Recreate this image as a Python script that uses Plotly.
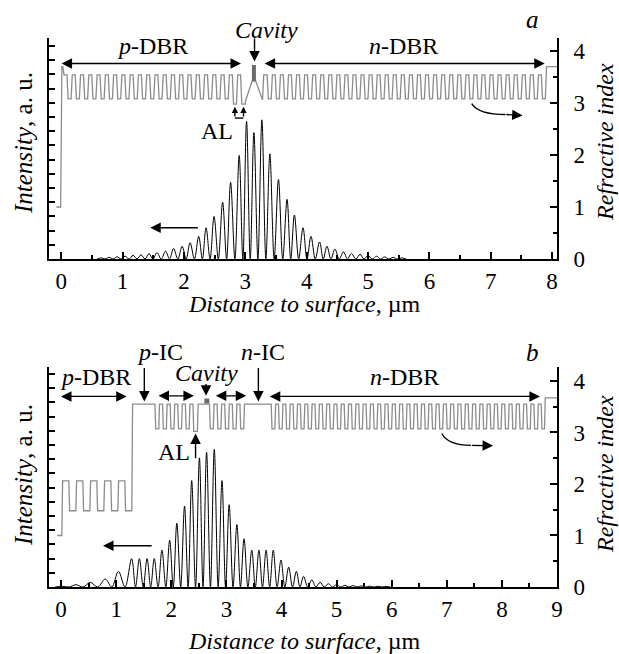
import plotly.graph_objects as go

FONT = "Liberation Serif"
GREY = "#8c8c8c"
DARK = "#6a6a6a"

# ---------------- panel a : layer structure (µm, refractive index) ----------------
a_air_span = [-0.08, 0.0]
a_cap_span = [0.0, 0.035]
a_pdbr_span = [0.035, 3.0]
a_pdbr_pairs = 22
a_al_pairs = 2
a_grin_x = [3.00, 3.11, 3.17, 3.28]
a_grin_n = [3.03, 3.42, 3.42, 3.06]
a_qw_x = [3.14, 3.14]
a_qw_n = [3.42, 3.73]
a_ndbr_span = [3.30, 7.90]
a_ndbr_pairs = 35
a_sub_span = [7.90, 8.2]
a_n_air, a_n_cap, a_n_hi, a_n_lo, a_n_al, a_n_sub = 1.0, 3.70, 3.54, 3.08, 2.98, 3.70

# ---------------- panel a : intensity lobes ----------------
a_peak_x = [0.65, 0.78, 0.91, 1.04, 1.17, 1.30, 1.43, 1.56, 1.70, 1.83,
            1.97, 2.10, 2.24, 2.36, 2.49, 2.63, 2.76, 2.90, 3.02, 3.14,
            3.27, 3.40, 3.54, 3.68, 3.80, 3.94, 4.07, 4.21, 4.33, 4.46,
            4.60, 4.73, 4.87, 5.00, 5.14, 5.27, 5.41, 5.55]
a_peak_h = [0.08, 0.12, 0.16, 0.2, 0.26, 0.3, 0.38, 0.45, 0.56, 0.75,
            0.9, 1.15, 1.6, 2.2, 3.0, 4.0, 5.4, 7.3, 9.7, 8.9,
            9.8, 7.4, 5.6, 4.2, 3.1, 2.2, 1.6, 1.2, 0.9, 0.7,
            0.5, 0.4, 0.33, 0.25, 0.2, 0.15, 0.12, 0.08]

# ---------------- panel b : layer structure ----------------
b_air_span = [-0.07, 0.02]
b_pdbr_span = [0.02, 1.29]
b_pdbr_pairs = 5
b_pic_span = [1.29, 1.71]
b_dbr1_span = [1.71, 2.40]
b_dbr1_pairs = 5
b_al_span = [2.40, 2.48]
b_cav_span = [2.48, 2.70]
b_dbr2_span = [2.70, 3.39]
b_dbr2_pairs = 5
b_nic_span = [3.39, 3.82]
b_ndbr_span = [3.82, 8.72]
b_ndbr_pairs = 37
b_end_lo_span = [8.72, 8.78]
b_sub_span = [8.78, 9.1]
b_qw_x = [2.60, 2.69]
b_qw_n = [3.61, 3.61]
b_n_air, b_n_dhi, b_n_dlo = 1.0, 2.06, 1.48
b_n_hi, b_n_lo, b_n_al, b_n_sub = 3.55, 3.07, 3.02, 3.67

# ---------------- panel b : intensity lobes ----------------
b_peak_x = [0.02, 0.27, 0.53, 0.80, 1.04, 1.28, 1.42, 1.56, 1.69, 1.83,
            1.97, 2.10, 2.24, 2.37, 2.51, 2.64, 2.78, 2.92, 3.05, 3.19,
            3.32, 3.46, 3.59, 3.72, 3.85, 3.99, 4.13, 4.27, 4.40, 4.55,
            4.70, 4.85, 5.00, 5.15, 5.30, 5.45, 5.60, 5.75, 5.90]
b_peak_h = [0.05, 0.16, 0.33, 0.56, 1.1, 2.0, 2.0, 2.0, 2.0, 2.6,
            3.3, 4.5, 5.7, 7.5, 9.1, 9.5, 9.7, 7.5, 5.8, 4.4,
            3.4, 2.6, 2.6, 2.6, 2.6, 1.9, 1.4, 1.1, 0.75, 0.5,
            0.33, 0.23, 0.16, 0.12, 0.1, 0.08, 0.06, 0.05, 0.04]


def dbr(span, pairs, first, second):
    s, e = span
    p = (e - s) / pairs
    out = []
    for k in range(pairs):
        x = s + k * p
        out.append([x, x + p / 2, first])
        out.append([x + p / 2, x + p, second])
    return out


def layer_points(layers, ramp):
    xs, ys = [], []
    n = len(layers)
    for i, (x0, x1, v) in enumerate(layers):
        a = x0 + (ramp / 2 if i > 0 else 0)
        b = x1 - (ramp / 2 if i < n - 1 else 0)
        xs += [a, b]
        ys += [v, v]
    return xs, ys


def lobes(px, ph):
    xs = [px[0] - (px[1] - px[0]) / 2]
    ys = [0]
    for i in range(len(px)):
        xs.append(px[i]); ys.append(ph[i])
        if i < len(px) - 1:
            xs.append((px[i] + px[i + 1]) / 2)
        else:
            xs.append(px[i] + (px[i] - px[i - 1]) / 2)
        ys.append(0)
    return xs, ys


# panel a profile
pd_a = dbr(a_pdbr_span, a_pdbr_pairs, a_n_hi, a_n_lo)
for j in range(a_al_pairs):
    pd_a[-1 - 2 * j][2] = a_n_al
seg1 = [[a_air_span[0], a_air_span[1], a_n_air], [a_cap_span[0], a_cap_span[1], a_n_cap]] + pd_a
x1, y1 = layer_points(seg1, 0.02)
seg2 = dbr(a_ndbr_span, a_ndbr_pairs, a_n_hi, a_n_lo) + [[a_sub_span[0], a_sub_span[1], a_n_sub]]
x2, y2 = layer_points(seg2, 0.02)
a_nx = x1 + a_grin_x + x2
a_ny = y1 + a_grin_n + y2

# panel b profile
seg_b = ([[b_air_span[0], b_air_span[1], b_n_air]]
         + dbr(b_pdbr_span, b_pdbr_pairs, b_n_dhi, b_n_dlo)
         + [[b_pic_span[0], b_pic_span[1], b_n_hi]]
         + dbr(b_dbr1_span, b_dbr1_pairs, b_n_lo, b_n_hi)
         + [[b_al_span[0], b_al_span[1], b_n_al], [b_cav_span[0], b_cav_span[1], b_n_hi]]
         + dbr(b_dbr2_span, b_dbr2_pairs, b_n_lo, b_n_hi)
         + [[b_nic_span[0], b_nic_span[1], b_n_hi]]
         + dbr(b_ndbr_span, b_ndbr_pairs, b_n_lo, b_n_hi)
         + [[b_end_lo_span[0], b_end_lo_span[1], b_n_lo], [b_sub_span[0], b_sub_span[1], b_n_sub]])
b_nx, b_ny = layer_points(seg_b, 0.014)

a_ix, a_iy = lobes(a_peak_x, a_peak_h)
b_ix, b_iy = lobes(b_peak_x, b_peak_h)

fig = go.Figure()
fig.add_trace(go.Scatter(x=a_nx, y=a_ny, xaxis="x", yaxis="y2", mode="lines",
                         line=dict(color=GREY, width=1.3), showlegend=False))
fig.add_trace(go.Scatter(x=a_qw_x, y=a_qw_n, xaxis="x", yaxis="y2", mode="lines",
                         line=dict(color=DARK, width=4), showlegend=False))
fig.add_trace(go.Scatter(x=a_ix, y=a_iy, xaxis="x", yaxis="y", mode="lines",
                         line=dict(color="black", width=1, shape="spline"), showlegend=False))
fig.add_trace(go.Scatter(x=b_nx, y=b_ny, xaxis="x2", yaxis="y4", mode="lines",
                         line=dict(color=GREY, width=1.3), showlegend=False))
fig.add_trace(go.Scatter(x=b_qw_x, y=b_qw_n, xaxis="x2", yaxis="y4", mode="lines",
                         line=dict(color=DARK, width=5), showlegend=False))
fig.add_trace(go.Scatter(x=b_ix, y=b_iy, xaxis="x2", yaxis="y3", mode="lines",
                         line=dict(color="black", width=1, shape="spline"), showlegend=False))

tickfont = dict(family=FONT, size=23, color="black")
common = dict(showline=True, linecolor="black", linewidth=2, ticks="inside",
              tickcolor="black", tickwidth=1.5, showgrid=False, zeroline=False,
              tickfont=tickfont)
minor = dict(dtick=0.5, ticks="inside", ticklen=4, tickwidth=1.5, tickcolor="black")

DOM_A = [0.5974, 1.0]
DOM_B = [0.0, 0.4007]

fig.update_layout(
    width=619, height=654,
    margin=dict(l=49, r=62, t=38, b=67),
    plot_bgcolor="white", paper_bgcolor="white",
    xaxis=dict(domain=[0, 1], anchor="y", range=[-0.2, 8.08], dtick=1, ticklen=7,
               minor=minor, ticklabelstandoff=0, **common),
    yaxis=dict(domain=DOM_A, anchor="x", range=[0, 15.56], dtick=1, ticklen=6,
               showticklabels=False, **common),
    yaxis2=dict(overlaying="y", side="right", anchor="x", range=[0, 4.25], dtick=1, ticklen=7,
                minor=minor, ticklabelstandoff=10, **common),
    xaxis2=dict(domain=[0, 1], anchor="y3", range=[-0.22, 9.0], dtick=1, ticklen=7,
                minor=minor, ticklabelstandoff=0, **common),
    yaxis3=dict(domain=DOM_B, anchor="x2", range=[0, 15.5], dtick=1, ticklen=6,
                showticklabels=False, **common),
    yaxis4=dict(overlaying="y3", side="right", anchor="x2", range=[0, 4.27], dtick=1, ticklen=7,
                minor=minor, ticklabelstandoff=10, **common),
)

ARW = dict(showarrow=True, arrowhead=2, arrowsize=1.5, arrowwidth=1.4, arrowcolor="black", text="")


def arrow(xr, yr, x, y, ax, ay, both=False, size=None):
    d = dict(ARW, xref=xr, yref=yr, axref=xr, ayref=yr, x=x, y=y, ax=ax, ay=ay)
    if both:
        d["arrowside"] = "end+start"
    if size:
        d["arrowsize"] = size
    fig.add_annotation(**d)


# panel a arrows
arrow("x", "y2", 2.93, 3.76, -0.02, 3.76, True)
arrow("x", "y2", 7.88, 3.76, 3.29, 3.76, True)
arrow("x", "y2", 3.15, 3.80, 3.15, 4.27)
arrow("x", "y2", 2.83, 2.93, 2.83, 2.71, size=0.9)
arrow("x", "y2", 2.97, 2.93, 2.97, 2.71, size=0.9)
arrow("x", "y2", 1.45, 0.60, 2.25, 0.60)
arrow("x", "y2", 7.52, 2.76, 7.23, 2.78)
fig.add_shape(type="line", xref="x", yref="y2", x0=2.83, x1=2.97, y0=2.71, y1=2.71,
              line=dict(color="black", width=1.4))
fig.add_shape(type="path", xref="x", yref="y2", path="M 6.69,2.99 Q 6.80,2.78 7.24,2.78",
              line=dict(color="black", width=1.4))

# panel b arrows
arrow("x2", "y4", 1.19, 3.70, -0.03, 3.70, True)
arrow("x2", "y4", 1.51, 3.60, 1.51, 4.28)
arrow("x2", "y4", 2.63, 3.71, 2.63, 3.97)
arrow("x2", "y4", 2.41, 3.71, 1.74, 3.71, True)
arrow("x2", "y4", 3.36, 3.71, 2.78, 3.71, True)
arrow("x2", "y4", 3.58, 3.60, 3.58, 4.28)
arrow("x2", "y4", 8.69, 3.70, 3.76, 3.70, True)
arrow("x2", "y4", 2.44, 2.98, 2.44, 2.47)
arrow("x2", "y4", 0.76, 0.80, 1.67, 0.80)
arrow("x2", "y4", 7.84, 2.74, 7.43, 2.75)
fig.add_shape(type="path", xref="x2", yref="y4", path="M 6.91,2.98 Q 7.02,2.75 7.44,2.75",
              line=dict(color="black", width=1.4))


def P(px, py):
    return (px - 49) / 508, (587 - py) / 549


def label(text, px, py, size=24, angle=0):
    x, y = P(px, py)
    fig.add_annotation(x=x, y=y, xref="paper", yref="paper", text=text, showarrow=False,
                       xanchor="center", yanchor="middle", textangle=angle,
                       font=dict(family=FONT, size=size, color="black"))


label("<i>a</i>", 532, 19, 25)
label("<i>p</i>-DBR", 152, 46)
label("<i>n</i>-DBR", 403, 46)
label("<i>Cavity</i>", 266, 30)
label("AL", 217, 131)
label("<i>b</i>", 532, 352, 25)
label("<i>p</i>-DBR", 95, 377)
label("<i>p</i>-IC", 160, 352)
label("<i>Cavity</i>", 206, 373)
label("<i>n</i>-IC", 263, 352)
label("<i>n</i>-DBR", 404, 377)
label("AL", 174, 452)

label("<i>Intensity</i>, a. u.", 23, 143, 25, -90)
label("<i>Intensity</i>, a. u.", 23, 475, 25, -90)
label("<i>Refractive index</i>", 605, 142, 24, -90)
label("<i>Refractive index</i>", 605, 474, 24, -90)
label("<i>Distance to surface</i>, µm", 304, 304, 24)
label("<i>Distance to surface</i>, µm", 304, 641, 24)

fig.write_html("out.html", config={"displayModeBar": False},
               post_script="document.body.style.margin='0px';document.body.style.overflow='hidden';")
